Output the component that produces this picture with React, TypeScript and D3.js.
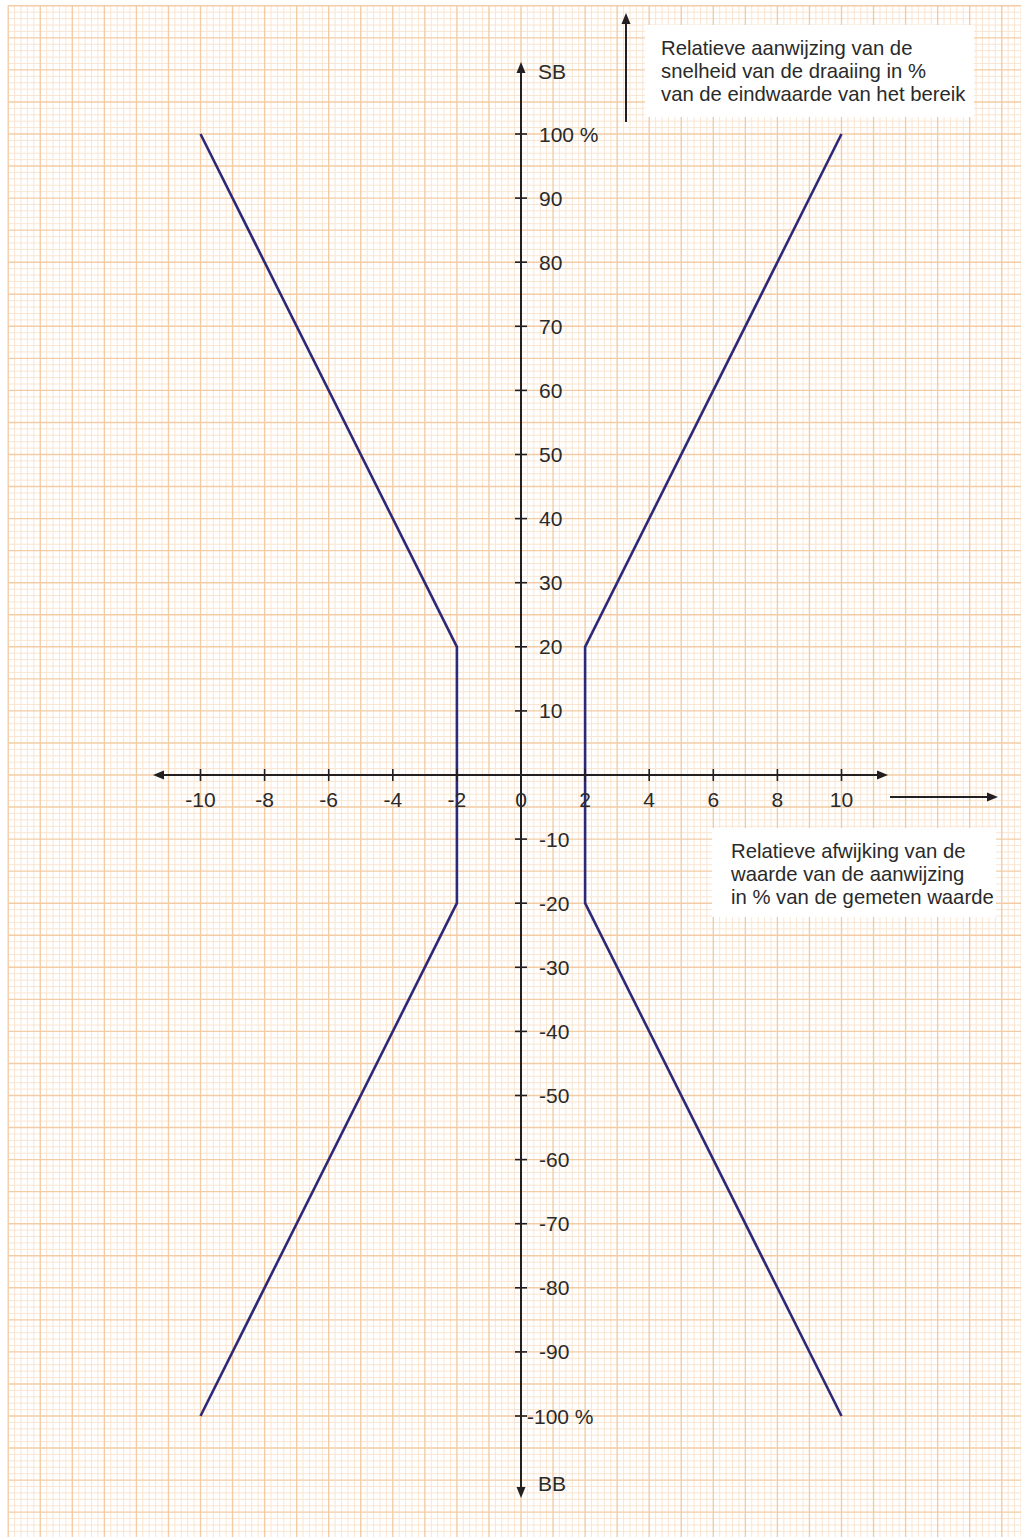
import React, { useRef, useEffect } from 'react';
import * as d3 from 'd3';

const W = 1021;
const H = 1537;

// error limits: deviation (%) against indication (%)
const boundY = [100, 20, -20, -100];
const leftBoundX = [-10, -2, -2, -10];
const rightBoundX = [10, 2, 2, 10];

const xTicks = [-10, -8, -6, -4, -2, 0, 2, 4, 6, 8, 10];
const yTicks = [100, 90, 80, 70, 60, 50, 40, 30, 20, 10, -10, -20, -30, -40, -50, -60, -70, -80, -90, -100];
const yTickLabels = ['100 %', '90', '80', '70', '60', '50', '40', '30', '20', '10', '-10', '-20', '-30', '-40', '-50', '-60', '-70', '-80', '-90', '-100 %'];

const topNote = ['Relatieve aanwijzing van de', 'snelheid van de draaiing in %', 'van de eindwaarde van het bereik'];
const rightNote = ['Relatieve afwijking van de', 'waarde van de aanwijzing', 'in % van de gemeten waarde'];

const FONT = 'Liberation Sans, Arial, sans-serif';
const AXIS = '#231f20';
const TEXT = '#2a2a2a';
const CURVE = '#2d2877';
const MAJOR = '#f3cca5';
const MINOR = '#f9e5d1';

const renderChart = (el: SVGSVGElement) => {
	const svg = d3.select(el);
	svg.selectAll('*').remove();
	svg.attr('width', W).attr('height', H);

	const x = d3.scaleLinear().domain([-10, 10]).range([200.5, 841.5]);
	const y = d3.scaleLinear().domain([-100, 100]).range([1416, 134]);

	svg.append('rect').attr('width', W).attr('height', H).attr('fill', '#fff');

	// graph paper: minor 0.2 x-units / 1 y-unit, major every 1 / 5
	const paper = svg.append('g');
	const gx0 = x(-16);
	const gy0 = y(120);
	const minorX = d3.range(-80, 80).filter((k) => k % 5 !== 0).map((k) => k / 5);
	const minorY = d3.range(-119, 121).filter((k) => k % 5 !== 0);

	paper.selectAll('line.vx')
		.data(minorX)
		.join('line')
		.attr('x1', (d) => x(d))
		.attr('x2', (d) => x(d))
		.attr('y1', gy0)
		.attr('y2', H)
		.attr('stroke', MINOR)
		.attr('stroke-width', 1);

	paper.selectAll('line.hy')
		.data(minorY)
		.join('line')
		.attr('x1', gx0)
		.attr('x2', W)
		.attr('y1', (d) => y(d))
		.attr('y2', (d) => y(d))
		.attr('stroke', MINOR)
		.attr('stroke-width', 1);

	paper.selectAll('line.mx')
		.data(d3.range(-16, 16))
		.join('line')
		.attr('x1', (d) => x(d))
		.attr('x2', (d) => x(d))
		.attr('y1', gy0)
		.attr('y2', H)
		.attr('stroke', MAJOR)
		.attr('stroke-width', 1.4);
	paper.selectAll('line.my')
		.data(d3.range(-115, 121, 5))
		.join('line')
		.attr('x1', gx0)
		.attr('x2', W)
		.attr('y1', (d) => y(d))
		.attr('y2', (d) => y(d))
		.attr('stroke', MAJOR)
		.attr('stroke-width', 1.4);

	const arrow = (g: any, tx: number, ty: number, dir: string) => {
		const L = 11;
		const hw = 4.5;
		let pts: number[][] = [];
		if (dir === 'up') pts = [[tx, ty], [tx - hw, ty + L], [tx + hw, ty + L]];
		if (dir === 'down') pts = [[tx, ty], [tx - hw, ty - L], [tx + hw, ty - L]];
		if (dir === 'left') pts = [[tx, ty], [tx + L, ty - hw], [tx + L, ty + hw]];
		if (dir === 'right') pts = [[tx, ty], [tx - L, ty - hw], [tx - L, ty + hw]];
		g.append('polygon').attr('points', pts.map((p) => p.join(',')).join(' ')).attr('fill', AXIS);
	};

	// limit curves
	const line = d3.line<number>().x((d) => x(d)).y((d, i) => y(boundY[i]));
	[leftBoundX, rightBoundX].forEach((xs) => {
		svg.append('path')
			.attr('d', line(xs))
			.attr('fill', 'none')
			.attr('stroke', CURVE)
			.attr('stroke-width', 2.6)
			.attr('stroke-linejoin', 'round');
	});

	// axes
	const axes = svg.append('g');
	const x0 = x(0);
	const y0 = y(0);
	axes.append('line').attr('x1', 160).attr('x2', 880).attr('y1', y0).attr('y2', y0)
		.attr('stroke', AXIS).attr('stroke-width', 2);
	arrow(axes, 153, y0, 'left');
	arrow(axes, 888, y0, 'right');
	axes.append('line').attr('x1', x0).attr('x2', x0).attr('y1', 70).attr('y2', 1490)
		.attr('stroke', AXIS).attr('stroke-width', 2);
	arrow(axes, x0, 62, 'up');
	arrow(axes, x0, 1498, 'down');

	axes.selectAll('line.xt')
		.data(xTicks.filter((d) => d !== 0))
		.join('line')
		.attr('x1', (d) => x(d))
		.attr('x2', (d) => x(d))
		.attr('y1', y0 - 6)
		.attr('y2', y0 + 6)
		.attr('stroke', AXIS)
		.attr('stroke-width', 1.6);
	axes.selectAll('text.xl')
		.data(xTicks)
		.join('text')
		.attr('x', (d) => x(d))
		.attr('y', y0 + 32)
		.attr('text-anchor', 'middle')
		.attr('font-family', FONT)
		.attr('font-size', 21)
		.attr('fill', TEXT)
		.text((d) => String(d));

	axes.selectAll('line.yt')
		.data(yTicks)
		.join('line')
		.attr('x1', x0 - 6)
		.attr('x2', x0 + 6)
		.attr('y1', (d) => y(d))
		.attr('y2', (d) => y(d))
		.attr('stroke', AXIS)
		.attr('stroke-width', 1.6);
	axes.selectAll('text.yl')
		.data(yTicks)
		.join('text')
		.attr('x', (d, i) => x0 + (yTickLabels[i] === '-100 %' ? 6 : 18))
		.attr('y', (d) => y(d) + 7.5)
		.attr('font-family', FONT)
		.attr('font-size', 21)
		.attr('fill', TEXT)
		.text((d, i) => yTickLabels[i]);

	axes.append('text').attr('x', x0 + 17).attr('y', 79)
		.attr('font-family', FONT).attr('font-size', 21).attr('fill', TEXT).text('SB');
	axes.append('text').attr('x', x0 + 17).attr('y', 1491)
		.attr('font-family', FONT).attr('font-size', 21).attr('fill', TEXT).text('BB');

	// notes with their direction arrows
	const note = (lines: string[], bx: number, by: number, bw: number, bh: number, tx: number, ty: number) => {
		const g = svg.append('g');
		g.append('rect').attr('x', bx).attr('y', by).attr('width', bw).attr('height', bh).attr('fill', '#fff');
		g.selectAll('text')
			.data(lines)
			.join('text')
			.attr('x', tx)
			.attr('y', (d, i) => ty + i * 23)
			.attr('font-family', FONT)
			.attr('font-size', 20.3)
			.attr('fill', TEXT)
			.text((d) => d);
	};
	note(topNote, 645, 25, 329, 92, 661, 55);
	note(rightNote, 712, 828, 284, 89, 731, 858);

	const side = svg.append('g');
	side.append('line').attr('x1', 626).attr('x2', 626).attr('y1', 122).attr('y2', 22)
		.attr('stroke', AXIS).attr('stroke-width', 2);
	arrow(side, 626, 13, 'up');
	side.append('line').attr('x1', 890).attr('x2', 990).attr('y1', 797).attr('y2', 797)
		.attr('stroke', AXIS).attr('stroke-width', 2);
	arrow(side, 998, 797, 'right');
};

const App = () => {
	const ref = useRef<SVGSVGElement>(null);

	useEffect(() => {
		if (ref.current) renderChart(ref.current);
	}, []);

	return (
		<div style={{ position: 'absolute', left: 0, top: 0 }}>
			<svg ref={ref} style={{ display: 'block' }} />
		</div>
	);
};

export default App;
